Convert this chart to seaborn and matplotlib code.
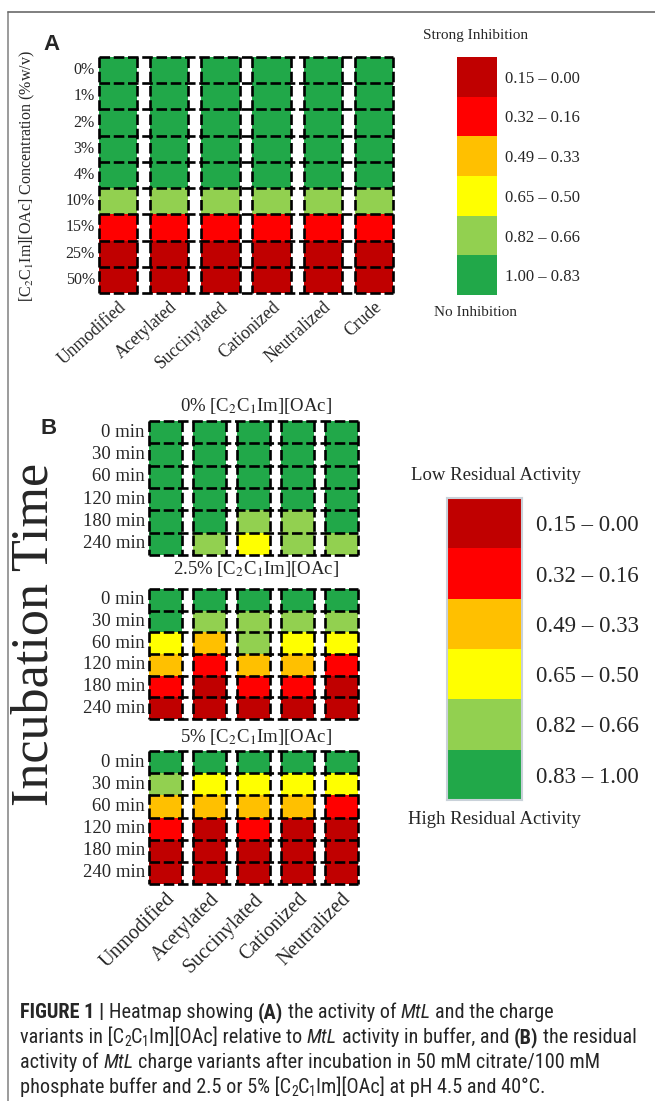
import numpy as np
import matplotlib
matplotlib.use('Agg')
import matplotlib.pyplot as plt
from matplotlib.colors import ListedColormap, BoundaryNorm
from matplotlib.lines import Line2D
from matplotlib import font_manager
import seaborn as sns

sns.set_style('white')
plt.rcParams['font.family'] = ['Liberation Serif', 'DejaVu Serif']
plt.rcParams['mathtext.fontset'] = 'stix'

## colour bins (activity relative to buffer)
bin_edges = [0.0, 0.155, 0.325, 0.495, 0.655, 0.825, 1.0]
bin_colors = ['#C00000', '#FF0000', '#FFC000', '#FFFF00', '#92D050', '#21A849']
cmap = ListedColormap(bin_colors)
norm = BoundaryNorm(bin_edges, cmap.N)

## Panel A data
variants_a = ['Unmodified', 'Acetylated', 'Succinylated', 'Cationized', 'Neutralized', 'Crude']
conc_labels = ['0%', '1%', '2%', '3%', '4%', '10%', '15%', '25%', '50%']
unmodified_a = [0.95, 0.93, 0.92, 0.90, 0.88, 0.74, 0.24, 0.09, 0.06]
acetylated_a = [0.94, 0.93, 0.91, 0.90, 0.87, 0.73, 0.23, 0.08, 0.05]
succinylated_a = [0.95, 0.94, 0.92, 0.89, 0.88, 0.75, 0.25, 0.09, 0.06]
cationized_a = [0.93, 0.92, 0.91, 0.89, 0.86, 0.72, 0.22, 0.08, 0.05]
neutralized_a = [0.94, 0.93, 0.92, 0.90, 0.87, 0.74, 0.24, 0.10, 0.06]
crude_a = [0.95, 0.94, 0.93, 0.91, 0.89, 0.76, 0.26, 0.11, 0.07]
legend_a_labels = ['0.15 – 0.00', '0.32 – 0.16', '0.49 – 0.33', '0.65 – 0.50', '0.82 – 0.66', '1.00 – 0.83']

## Panel B data (rows = incubation time, cols = variant)
variants_b = ['Unmodified', 'Acetylated', 'Succinylated', 'Cationized', 'Neutralized']
time_labels = ['0 min', '30 min', '60 min', '120 min', '180 min', '240 min']
il_0pct = [[0.98, 0.97, 0.98, 0.97, 0.98],
           [0.96, 0.95, 0.94, 0.95, 0.96],
           [0.95, 0.93, 0.91, 0.92, 0.94],
           [0.93, 0.90, 0.88, 0.89, 0.92],
           [0.90, 0.86, 0.78, 0.80, 0.88],
           [0.87, 0.76, 0.60, 0.72, 0.75]]
il_25pct = [[0.97, 0.95, 0.93, 0.94, 0.96],
            [0.86, 0.77, 0.74, 0.75, 0.78],
            [0.60, 0.45, 0.70, 0.58, 0.56],
            [0.42, 0.28, 0.40, 0.38, 0.26],
            [0.25, 0.12, 0.22, 0.20, 0.10],
            [0.12, 0.06, 0.08, 0.10, 0.05]]
il_5pct = [[0.92, 0.88, 0.87, 0.89, 0.90],
           [0.72, 0.58, 0.56, 0.60, 0.55],
           [0.44, 0.38, 0.40, 0.42, 0.27],
           [0.22, 0.10, 0.20, 0.12, 0.08],
           [0.10, 0.05, 0.08, 0.06, 0.04],
           [0.05, 0.03, 0.04, 0.03, 0.02]]
block_titles = [r'0% [C$_2$C$_1$Im][OAc]', r'2.5% [C$_2$C$_1$Im][OAc]', r'5% [C$_2$C$_1$Im][OAc]']
legend_b_labels = ['0.15 – 0.00', '0.32 – 0.16', '0.49 – 0.33', '0.65 – 0.50', '0.82 – 0.66', '0.83 – 1.00']
legend_vals = [0.08, 0.24, 0.41, 0.57, 0.74, 0.92]

W, H = 655, 1101
fig = plt.figure(figsize=(W / 100, H / 100), dpi=100)


def box(x0, y0, x1, y1):
    # pixel box (top-left origin) -> figure axes rect
    return [x0 / W, 1 - y1 / H, (x1 - x0) / W, (y1 - y0) / H]


def with_gaps(mat):
    # each variant spans 3 sub-columns, separated by an empty (white) column
    mat = np.asarray(mat, float)
    cols = []
    for j in range(mat.shape[1]):
        if j:
            cols.append(np.full(mat.shape[0], np.nan))
        cols += [mat[:, j]] * 3
    return np.column_stack(cols)


dash = (0, (4, 1.4))


def grid_heatmap(ax, mat, ylabels, xlabels=None, ysize=11.5, xsize=12, rot=45):
    data = with_gaps(mat)
    nr, nc = data.shape
    nv = np.asarray(mat).shape[1]
    sns.heatmap(data, ax=ax, cmap=cmap, norm=norm, cbar=False,
                xticklabels=False, yticklabels=ylabels, linewidths=0)
    ax.hlines(np.arange(nr + 1), 0, nc, colors='k', linestyles=dash, linewidth=1.9, clip_on=False)
    edges = sorted([4 * j for j in range(nv)] + [4 * j + 3 for j in range(nv)])
    ax.vlines(edges, 0, nr, colors='k', linestyles=dash, linewidth=1.9, clip_on=False)
    ax.tick_params(axis='y', labelsize=ysize, pad=3, rotation=0, length=0)
    if xlabels is not None:
        ax.set_xticks([4 * j + 1.5 for j in range(nv)])
        ax.set_xticklabels(xlabels, rotation=rot, ha='right', rotation_mode='anchor', fontsize=xsize)
        ax.tick_params(axis='x', pad=4, length=0)


def legend_bar(ax, labels, size, pad=7, border=None):
    sns.heatmap(np.array(legend_vals).reshape(-1, 1), ax=ax, cmap=cmap, norm=norm, cbar=False,
                xticklabels=False, yticklabels=labels, linewidths=0)
    ax.yaxis.tick_right()
    ax.tick_params(axis='y', labelsize=size, rotation=0, pad=pad, length=0)
    if border:
        for s in ax.spines.values():
            s.set_visible(True)
            s.set_color(border)
            s.set_linewidth(1.5)


## Panel A
ax_a = fig.add_axes(box(99, 57, 393, 293))
mat_a = np.column_stack([unmodified_a, acetylated_a, succinylated_a, cationized_a, neutralized_a, crude_a])
grid_heatmap(ax_a, mat_a, conc_labels, variants_a, ysize=11.5, xsize=12.7, rot=42)
fig.text(27 / W, 1 - 176 / H, r'[C$_2$C$_1$Im][OAc] Concentration (%w/v)', rotation=90,
         ha='center', va='center', fontsize=11.5)
fig.text(51 / W, 1 - 44 / H, 'A', family='Liberation Sans', weight='bold', fontsize=16,
         ha='center', va='center')

lax_a = fig.add_axes(box(457, 57, 497, 295))
legend_bar(lax_a, legend_a_labels, 12, pad=6)
fig.text(476 / W, 1 - 35 / H, 'Strong Inhibition', ha='center', va='center', fontsize=11)
fig.text(476 / W, 1 - 313 / H, 'No Inhibition', ha='center', va='center', fontsize=11)

## Panel B
blocks = [(il_0pct, 421, 555, 406), (il_25pct, 589, 719, 569), (il_5pct, 751, 884, 737)]
for k, (mat, top, bot, ty) in enumerate(blocks):
    ax = fig.add_axes(box(149, top, 358, bot))
    grid_heatmap(ax, mat, time_labels, variants_b if k == 2 else None, ysize=13.5, xsize=14.5, rot=45)
    fig.text(256 / W, 1 - ty / H, block_titles[k], ha='center', va='center', fontsize=13.5)
fig.text(35 / W, 1 - 634 / H, 'Incubation Time', rotation=90, ha='center', va='center', fontsize=37.5)
fig.text(49 / W, 1 - 428 / H, 'B', family='Liberation Sans', weight='bold', fontsize=16,
         ha='center', va='center')

lax_b = fig.add_axes(box(447, 498, 522, 800))
legend_bar(lax_b, legend_b_labels, 16.5, pad=10, border='#C9D1D9')
fig.text(496 / W, 1 - 475 / H, 'Low Residual Activity', ha='center', va='center', fontsize=13.5)
fig.text(494 / W, 1 - 820 / H, 'High Residual Activity', ha='center', va='center', fontsize=13.5)

## frame
fig.add_artist(Line2D([8 / W, 8 / W], [0, 1 - 12 / H], transform=fig.transFigure, color='#8a8a8a', lw=1.2))
fig.add_artist(Line2D([8 / W, 1], [1 - 12 / H, 1 - 12 / H], transform=fig.transFigure, color='#6a6a6a', lw=1.2))

## caption
cap_font = 'Liberation Sans'
for fam, stretch in [('Liberation Sans Narrow', 'normal'), ('Roboto Condensed', 'normal'),
                     ('DejaVu Sans', 'condensed')]:
    try:
        path = font_manager.findfont(font_manager.FontProperties(family=fam, stretch=stretch),
                                     fallback_to_default=False)
        if fam != 'DejaVu Sans' or 'Condensed' in path:
            cap_font = fam
            break
    except Exception:
        pass

renderer = fig.canvas.get_renderer()


def text_w(s, **kw):
    t = fig.text(0, 0, s, **kw)
    w = t.get_window_extent(renderer).width
    t.remove()
    return w


def style_kw(kind, size):
    kw = dict(family=cap_font, fontsize=size)
    if kind == 'b':
        kw['fontweight'] = 'bold'
    elif kind == 'i':
        kw['fontstyle'] = 'italic'
    elif kind == 's':
        kw['fontsize'] = size * 0.68
    return kw


def advance(s, kind, size):
    kw = style_kw(kind, size)
    return text_w('|' + s + '|', **kw) - text_w('||', **kw)


def line_width(parts, size):
    return sum(advance(s, k, size) for s, k in parts)


def rich_line(x, y, parts, size):
    for s, kind in parts:
        kw = style_kw(kind, size)
        lead = len(s) - len(s.lstrip())
        x0 = x + (advance(' ' * lead, kind, size) if lead else 0)
        yy = y + 3 if kind == 's' else y
        fig.text(x0 / W, 1 - yy / H, s.strip(), va='baseline', ha='left', **kw)
        x += advance(s, kind, size)


cap_lines = [
    [('FIGURE 1 | ', 'b'), ('Heatmap showing ', ''), ('(A)', 'b'), (' the activity of ', ''),
     ('MtL', 'i'), (' and the charge', '')],
    [('variants in [C', ''), ('2', 's'), ('C', ''), ('1', 's'), ('Im][OAc] relative to ', ''), ('MtL', 'i'),
     (' activity in buffer, and ', ''), ('(B)', 'b'), (' the residual', '')],
    [('activity of ', ''), ('MtL', 'i'), (' charge variants after incubation in 50 mM citrate/100 mM', '')],
    [('phosphate buffer and 2.5 or 5% [C', ''), ('2', 's'), ('C', ''), ('1', 's'),
     ('Im][OAc] at pH 4.5 and 40°C.', '')],
]
# size chosen so the longest caption line spans the same width as in the figure
cap_size = 10 * 612 / line_width(cap_lines[1], 10)
for i, parts in enumerate(cap_lines):
    rich_line(20, 1018 + 25 * i, parts, cap_size)

fig.savefig('out.png', dpi=100)
